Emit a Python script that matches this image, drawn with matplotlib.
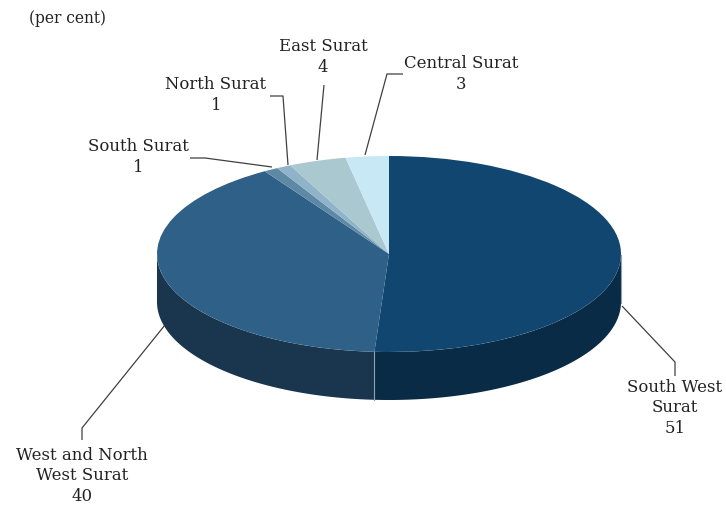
import numpy as np
import matplotlib.pyplot as plt

labels = ['South West\nSurat\n51', 'West and North\nWest Surat\n40', 'South Surat\n1',
          'North Surat\n1', 'East Surat\n4', 'Central Surat\n3']
values = [51, 40, 1, 1, 4, 3]
top_colors = ['#10466f', '#2f6087', '#5f88a5', '#8fb3c8', '#aac8cf', '#c8e8f6']
side_colors = ['#0a2b45', '#1a364e', '#1a364e', '#1a364e', '#1a364e', '#1a364e']

W, H = 726, 507
cx, cy, rx, ry, depth = 389, 254, 232, 98, 48


def px(x, y):
    # pixel position in the picture -> data coords of the pie
    return (x - cx) / rx, (cy - y) / ry


fig = plt.figure(figsize=(W / 100, H / 100), dpi=100)
ax = fig.add_axes([0, 0, 1, 1])
plt.rcParams['font.family'] = ['DejaVu Serif']

# side of the cake, only the lower half shows
d = depth / ry
angles = 90 - 360 * np.cumsum([0] + values) / sum(values)
for i in range(len(values)):
    a = np.linspace(angles[i], angles[i + 1], 200)
    a = a[np.sin(np.radians(a)) <= 0]
    if len(a) < 2:
        continue
    xs = np.cos(np.radians(a))
    ys = np.sin(np.radians(a))
    ax.fill(np.r_[xs, xs[::-1]], np.r_[ys, ys[::-1] - d], color=side_colors[i], lw=0)
    ax.plot([xs[0], xs[0]], [ys[0], ys[0] - d], color='#8fa3b3', lw=0.8)

ax.pie(values, colors=top_colors, startangle=90, counterclock=False,
       wedgeprops={'edgecolor': 'none', 'linewidth': 0})
ax.set_aspect('auto')
ax.set_xlim(px(0, 0)[0], px(W, 0)[0])
ax.set_ylim(px(0, H)[1], px(0, 0)[1])
ax.axis('off')

# leader lines
leaders = [
    [(622, 306), (675, 362), (675, 376)],
    [(165, 325), (82, 428), (82, 440)],
    [(272, 167), (205, 158), (190, 158)],
    [(288, 165), (283, 96), (270, 96)],
    [(317, 160), (324, 85)],
    [(365, 155), (387, 74), (403, 74)],
]
for pts in leaders:
    p = [px(*q) for q in pts]
    ax.plot([q[0] for q in p], [q[1] for q in p], color='#404040', lw=0.9, solid_capstyle='butt')

text_pos = [(675, 408), (82, 476), (138, 157), (216, 95), (323, 57), (461, 74)]
for lab, pos in zip(labels, text_pos):
    x, y = px(*pos)
    ax.text(x, y, lab, ha='center', va='center', fontsize=11.9, color='#222222', linespacing=1.3)

x, y = px(29, 19)
ax.text(x, y, '(per cent)', ha='left', va='center', fontsize=11.2, color='#222222')

fig.savefig('out.png', dpi=100)
